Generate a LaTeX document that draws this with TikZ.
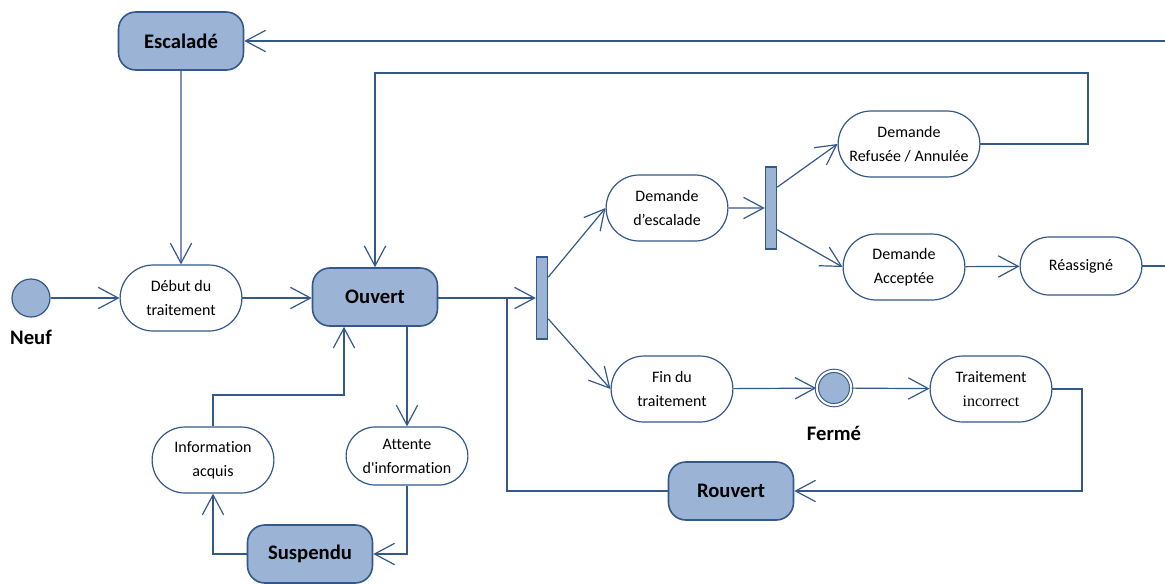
\documentclass[tikz,border=0pt]{standalone}
\usepackage{fontspec}
\setmainfont{Carlito}[Ligatures=NoCommon]
\newfontfamily\timesfont{Liberation Serif}
\usetikzlibrary{positioning,calc,arrows.meta,shapes.misc}
\definecolor{etatbleu}{RGB}{155,179,212}
\definecolor{traitbleu}{RGB}{52,88,138}
\tikzset{>={Straight Barb[length=15pt,width=16pt]}}
\tikzset{
  etat/.style={draw=traitbleu,fill=etatbleu,line width=1.2pt,rounded corners=13pt,
    minimum width=93.75pt,minimum height=43.5pt,font=\fontsize{15.5}{18}\selectfont\bfseries},
  activite/.style={draw=traitbleu,fill=white,line width=0.9pt,rounded rectangle,
    minimum width=98pt,minimum height=49.5pt,align=center,font=\fontsize{12}{18}\selectfont},
  barre/.style={draw=traitbleu,fill=etatbleu,line width=1.1pt,minimum width=8.25pt,
    minimum height=61.5pt,inner sep=0pt},
  initial/.style={circle,draw=traitbleu,fill=etatbleu,line width=0.9pt,minimum size=28.5pt,inner sep=0pt},
  final/.style={circle,draw=traitbleu,fill=etatbleu,double=white,line width=0.8pt,
    double distance=1.6pt,minimum size=25.75pt,inner sep=0pt},
  etiq/.style={font=\fontsize{15.5}{18}\selectfont\bfseries,inner sep=0pt},
  fleche/.style={->,draw=traitbleu,line width=0.9pt},
  trait/.style={draw=traitbleu,line width=0.9pt}
}

\begin{document}
\begin{tikzpicture}[x=0.75pt,y=-0.75pt]
\useasboundingbox (0,0) rectangle (1165,583);
% etats
\node[etat] (escalade) at (181,41) {Escaladé};
\node[initial] (neuf) at (31,298) {};
\node[etiq,below=9pt of neuf] (neuftxt) {Neuf};
\node[activite] (debut) at (181,298) {Début du\\traitement};
\node[etat] (ouvert) at (375,297) {Ouvert};
\node[activite] (info) at (213,460) {Information\\acquis};
\node[activite,minimum height=43.5pt] (attente) at (407,456) {Attente\\d\textquotesingle information};
\node[etat] (suspendu) at (310,554) {Suspendu};
\node[barre] (barre1) at (542,298) {};
\node[activite] (demesc) at (667,208) {Demande\\d’escalade};
\node[barre] (barre2) at (771,208) {};
\node[activite,minimum width=113pt] (refus) at (909,144) {Demande\\Refusée / Annulée};
\node[activite] (accept) at (904,267) {Demande\\Acceptée};
\node[activite,minimum height=43.5pt] (reassigne) at (1081,266) {Réassigné};
\node[activite] (fin) at (672,389) {Fin du\\traitement};
\node[final] (ferme) at (834,388) {};
\node[etiq,below=15pt of ferme] (fermetxt) {Fermé};
\node[activite] (incorrect) at (991,389) {Traitement\\{\timesfont incorrect}};
\node[etat] (rouvert) at (731,491) {Rouvert};
% coins des lignes
\coordinate (coinhaut) at (1088,73);
\coordinate (coindroit) at (1167,41);
\coordinate (embranch) at (507,298);
\coordinate (coinbas) at (1082,491);
\coordinate (coininfo) at (344,395);
% transitions
\draw[fleche] (neuf) -- (debut);
\draw[fleche] (debut.east) -- (debut.east -| ouvert.west);
\draw[fleche] (escalade) -- (debut);
\draw[fleche] (refus.east) -| (coinhaut) -| (ouvert.north);
\draw[fleche] (reassigne.east) -| (coindroit) -- (escalade.east);
\draw[fleche] (ouvert.east |- barre1.west) -- (barre1.west);
\draw[trait] (rouvert.west) -| (embranch);
\draw[fleche] ($(barre1.north east)!.25!(barre1.south east)$) -- (demesc.west);
\draw[fleche] ($(barre1.north east)!.75!(barre1.south east)$) -- (fin.west);
\draw[fleche] (demesc) -- (barre2);
\draw[fleche] ($(barre2.north east)!.25!(barre2.south east)$) -- (refus.west);
\draw[fleche] ($(barre2.north east)!.76!(barre2.south east)$) -- (accept.west);
\draw[fleche] (accept) -- (reassigne);
\draw[fleche] (fin) -- (ferme);
\draw[fleche] (ferme) -- (incorrect);
\draw[fleche] (incorrect.east) -| (coinbas) -- (rouvert.east);
\draw[fleche] (ouvert.south -| attente.north) -- (attente.north);
\draw[fleche] (attente.south) |- (suspendu.east);
\draw[fleche] (suspendu.west) -| (info.south);
\draw[fleche] (info.north) |- (coininfo) -- (coininfo |- ouvert.south);
\end{tikzpicture}
\end{document}
